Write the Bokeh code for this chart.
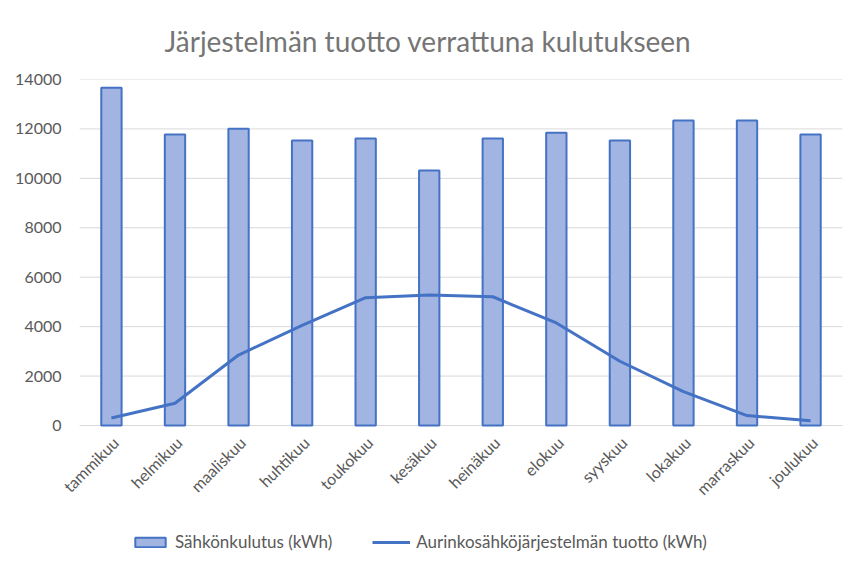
import math
from bokeh.plotting import figure
from bokeh.models import Range1d, FactorRange, FixedTicker, Legend, LegendItem, ColumnDataSource
from bokeh.transform import dodge
from bokeh.core.properties import value
from bokeh.embed import file_html
from bokeh.resources import INLINE

months = ["tammikuu", "helmikuu", "maaliskuu", "huhtikuu", "toukokuu", "kesäkuu",
          "heinäkuu", "elokuu", "syyskuu", "lokakuu", "marraskuu", "joulukuu"]
consumption = [13670, 11770, 12010, 11530, 11610, 10320, 11610, 11850, 11530, 12340, 12340, 11770]
production = [300, 900, 2850, 4050, 5170, 5280, 5210, 4150, 2600, 1370, 400, 190]
y_ticks = [0, 2000, 4000, 6000, 8000, 10000, 12000, 14000]

title_text = "Järjestelmän tuotto verrattuna kulutukseen"
label_consumption = "Sähkönkulutus (kWh)"
label_production = "Aurinkosähköjärjestelmän tuotto (kWh)"

FONT = "Lato"
GRAY = "#595959"
BLUE = "#4472C4"

# layout geometry (pixels)
CAT_PX = 63.55          # width of one month slot
PAD = 0.38              # extra frame room (in slots) on each side, for the rotated labels
VALUE_PX = 346          # height of the 0..14000 value area
FRAME_H = 488           # frame extends below zero to hold month labels and legend
FRAME_W = int(round(CAT_PX * (len(months) + 2 * PAD)))
LEFT = 55

y_max = y_ticks[-1]
y_min = -y_max * (FRAME_H - VALUE_PX) / VALUE_PX

src = ColumnDataSource(data=dict(month=months, cons=consumption, prod=production,
                                 base=[0] * len(months)))
grid_src = ColumnDataSource(data=dict(tick=y_ticks,
                                      first=[months[0]] * len(y_ticks),
                                      last=[months[-1]] * len(y_ticks)))

p = figure(frame_width=FRAME_W, frame_height=FRAME_H,
           x_range=FactorRange(*months, range_padding=PAD, range_padding_units="absolute"),
           y_range=Range1d(y_min, y_max),
           output_backend="svg", toolbar_location=None, x_axis_location=None,
           min_border_left=LEFT, min_border_right=0, min_border_top=78, min_border_bottom=6)

p.title.text = title_text
p.title.align = "left"
p.title.offset = 109
p.title.text_font = FONT
p.title.text_font_size = "28px"
p.title.text_font_style = "normal"
p.title.text_color = "#757575"
p.title.standoff = 43

# horizontal gridlines across the plot area only
p.segment(x0=dodge("first", -0.5, range=p.x_range), x1=dodge("last", 0.5, range=p.x_range),
          y0="tick", y1="tick", source=grid_src, line_color="#D9D9D9", line_width=1)

bars = p.vbar(x="month", top="cons", width=0.32, source=src,
              fill_color="#A2B4E2", line_color=BLUE, line_width=2)
line = p.line(x="month", y="prod", source=src, line_color=BLUE, line_width=3,
              line_join="round")

# month labels under the zero line, rotated 45 degrees
p.text(x="month", y="base", text="month", source=src, angle=math.pi / 4,
       text_align="right", text_baseline="middle", x_offset=4, y_offset=14,
       text_font=value(FONT), text_font_size="16px", text_color=GRAY)

p.outline_line_color = None
p.background_fill_color = "white"
p.border_fill_color = "white"

p.xgrid.grid_line_color = None
p.ygrid.grid_line_color = None

p.yaxis.ticker = FixedTicker(ticks=y_ticks)
p.yaxis.axis_line_color = None
p.yaxis.major_tick_line_color = None
p.yaxis.minor_tick_line_color = None
p.yaxis.major_label_text_font = FONT
p.yaxis.major_label_text_font_size = "16px"
p.yaxis.major_label_text_color = GRAY
p.yaxis.major_label_standoff = -12

legend = Legend(items=[LegendItem(label=label_consumption, renderers=[bars]),
                       LegendItem(label=label_production, renderers=[line])],
                orientation="horizontal", location=(76, 15),
                border_line_color=None, background_fill_alpha=0,
                label_text_font=FONT, label_text_font_size="17px", label_text_color=GRAY,
                glyph_width=38, glyph_height=12, spacing=40, label_standoff=6,
                margin=0, padding=4)
p.add_layout(legend, "center")

open("out.html", "w").write(file_html(p, INLINE))
